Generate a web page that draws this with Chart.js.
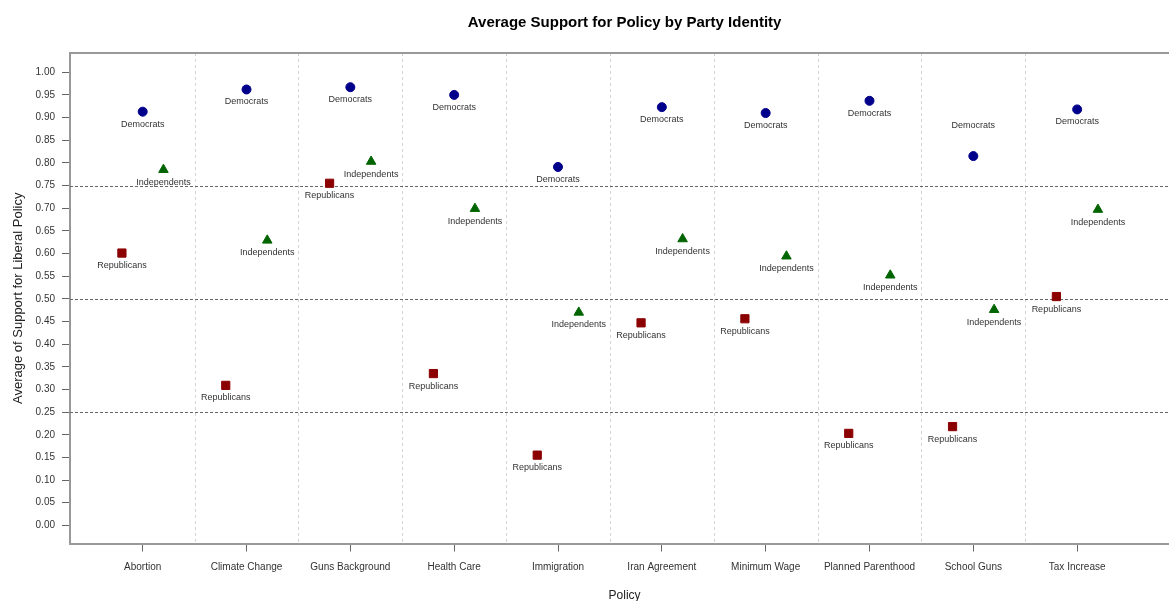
<!DOCTYPE html>
<html lang="en">
<head>
    <meta charset="UTF-8">
    <title>Average Support for Policy by Party Identity</title>
    <script src="https://cdn.jsdelivr.net/npm/chart.js@4.4.0/dist/chart.umd.min.js"></script>
    <style>
        html, body {
            margin: 0;
            padding: 0;
            overflow: hidden;
            background: #fff;
        }

        .chart-container {
            width: 1180px;
            height: 601px;
            position: relative;
        }
    </style>
</head>
<body>
    <div class="chart-container">
        <canvas id="policyChart"></canvas>
    </div>

    <script>
        const policies = ['Abortion', 'Climate Change', 'Guns Background', 'Health Care', 'Immigration',
            'Iran Agreement', 'Minimum Wage', 'Planned Parenthood', 'School Guns', 'Tax Increase'];
        const democrats = [0.913, 0.962, 0.967, 0.950, 0.791, 0.923, 0.910, 0.937, 0.815, 0.918];
        const independents = [0.785, 0.629, 0.803, 0.699, 0.470, 0.632, 0.594, 0.552, 0.476, 0.697];
        const republicans = [0.601, 0.309, 0.755, 0.335, 0.155, 0.447, 0.456, 0.203, 0.218, 0.505];
        const refLines = [0.25, 0.5, 0.75];

        // School Guns label for Democrats sits above its point in the original
        const labelAbove = { 'School Guns': 'Democrats' };

        const FONT = "'Liberation Sans', Arial, sans-serif";

        function toPoints(values, offset) {
            return values.map((v, i) => ({ x: i + 1 + offset, y: v }));
        }

        const decorPlugin = {
            id: 'decor',
            beforeDatasetsDraw(chart) {
                const { ctx, chartArea: a, scales: { x, y } } = chart;
                ctx.save();
                ctx.lineWidth = 1;

                // light dashed lines between categories
                ctx.strokeStyle = '#d4d4d4';
                ctx.setLineDash([3, 3]);
                for (let i = 1; i < policies.length; i++) {
                    const px = Math.round(x.getPixelForValue(i + 0.5)) + 0.5;
                    ctx.beginPath();
                    ctx.moveTo(px, a.top);
                    ctx.lineTo(px, a.bottom);
                    ctx.stroke();
                }

                // darker dashed reference lines
                ctx.strokeStyle = '#666';
                ctx.setLineDash([3, 2]);
                refLines.forEach(v => {
                    const py = Math.round(y.getPixelForValue(v)) + 0.5;
                    ctx.beginPath();
                    ctx.moveTo(a.left, py);
                    ctx.lineTo(a.right, py);
                    ctx.stroke();
                });

                // top box line
                ctx.setLineDash([]);
                ctx.strokeStyle = '#999';
                ctx.lineWidth = 2;
                ctx.beginPath();
                ctx.moveTo(a.left, a.top);
                ctx.lineTo(a.right, a.top);
                ctx.stroke();
                ctx.restore();
            },
            afterDatasetsDraw(chart) {
                const { ctx } = chart;
                ctx.save();
                ctx.font = '9px ' + FONT;
                ctx.fillStyle = '#333';
                ctx.textAlign = 'center';
                ctx.textBaseline = 'middle';
                chart.data.datasets.forEach((ds, di) => {
                    chart.getDatasetMeta(di).data.forEach((pt, i) => {
                        const above = labelAbove[policies[i]] === ds.label;
                        ctx.fillText(ds.label, pt.x, above ? pt.y - 31 : pt.y + 12.5);
                    });
                });
                ctx.restore();
            },
            afterDraw(chart) {
                const { ctx, chartArea: a } = chart;
                const cx = (a.left + a.right) / 2 + 3;
                ctx.save();
                ctx.textAlign = 'center';
                ctx.textBaseline = 'middle';

                ctx.fillStyle = '#000';
                ctx.font = 'bold 15px ' + FONT;
                ctx.fillText('Average Support for Policy by Party Identity', cx, 23);

                ctx.fillStyle = '#222';
                ctx.font = '12px ' + FONT;
                ctx.fillText('Policy', cx, 596);

                ctx.font = '13px ' + FONT;
                ctx.translate(18, (a.top + a.bottom) / 2);
                ctx.rotate(-Math.PI / 2);
                ctx.fillText('Average of Support for Liberal Policy', 0, 0);
                ctx.restore();
            }
        };

        const ctx = document.getElementById('policyChart').getContext('2d');

        new Chart(ctx, {
            type: 'scatter',
            data: {
                datasets: [
                    {
                        label: 'Republicans',
                        data: toPoints(republicans, -0.2),
                        pointStyle: 'rect',
                        pointRadius: 5.8,
                        backgroundColor: '#8b0000',
                        borderColor: '#8b0000',
                        borderWidth: 1
                    },
                    {
                        label: 'Democrats',
                        data: toPoints(democrats, 0),
                        pointStyle: 'circle',
                        pointRadius: 4.5,
                        backgroundColor: '#00008b',
                        borderColor: '#00008b',
                        borderWidth: 1
                    },
                    {
                        label: 'Independents',
                        data: toPoints(independents, 0.2),
                        pointStyle: 'triangle',
                        pointRadius: 5.5,
                        backgroundColor: '#006400',
                        borderColor: '#006400',
                        borderWidth: 1
                    }
                ]
            },
            options: {
                responsive: true,
                maintainAspectRatio: false,
                animation: false,
                layout: {
                    padding: { top: 53, left: 0, right: 2, bottom: 0 }
                },
                plugins: {
                    legend: { display: false },
                    tooltip: { enabled: false },
                    title: { display: false }
                },
                scales: {
                    x: {
                        type: 'linear',
                        min: 0.300,
                        max: 10.925,
                        afterBuildTicks: scale => {
                            scale.ticks = policies.map((_, i) => ({ value: i + 1 }));
                        },
                        afterFit: scale => {
                            scale.height = 57.5;
                        },
                        ticks: {
                            autoSkip: false,
                            maxRotation: 0,
                            padding: 10,
                            color: '#333',
                            font: { family: FONT, size: 10 },
                            callback: value => policies[Math.round(value) - 1]
                        },
                        grid: {
                            drawOnChartArea: false,
                            drawTicks: true,
                            tickLength: 8,
                            color: '#666'
                        },
                        border: { display: true, color: '#999', width: 2 }
                    },
                    y: {
                        type: 'linear',
                        min: -0.04,
                        max: 1.0425,
                        afterBuildTicks: scale => {
                            const ticks = [];
                            for (let i = 0; i <= 20; i++) ticks.push({ value: i * 0.05 });
                            scale.ticks = ticks;
                        },
                        afterFit: scale => {
                            scale.width = 70;
                        },
                        ticks: {
                            padding: 7,
                            color: '#333',
                            font: { family: FONT, size: 10 },
                            callback: value => value.toFixed(2)
                        },
                        grid: {
                            drawOnChartArea: false,
                            drawTicks: true,
                            tickLength: 8,
                            color: '#666'
                        },
                        border: { display: true, color: '#999', width: 2 }
                    }
                }
            },
            plugins: [decorPlugin]
        });
    </script>
</body>
</html>
